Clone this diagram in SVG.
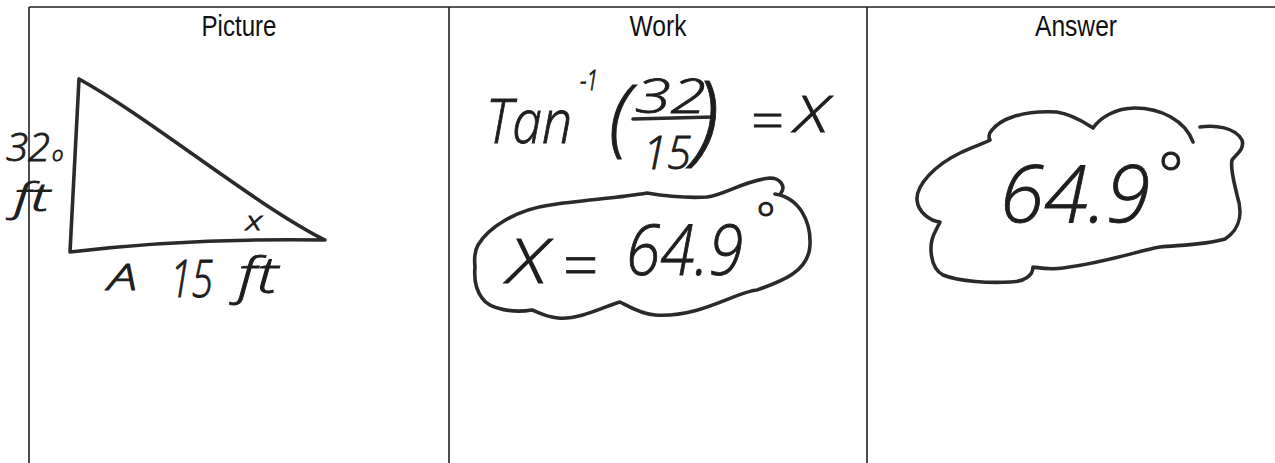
<svg xmlns="http://www.w3.org/2000/svg" width="1275" height="463" viewBox="0 0 1275 463">
<style>
.grid{stroke:#222;stroke-width:1.6;fill:none}
.head{font-family:"Liberation Sans Narrow","Liberation Sans",Arial,sans-serif;font-size:29px;fill:#111;text-anchor:middle}
.hw{font-family:"Open Sans","Liberation Sans",Arial,sans-serif;font-weight:300;font-style:italic;fill:#1e1e1e;stroke:#1e1e1e;stroke-width:0.9}
.pen{fill:none;stroke:#2a2a2a;stroke-width:3.6;stroke-linecap:round;stroke-linejoin:round}
</style>
<rect width="1275" height="463" fill="#fff"/>
<g id="table">
<path class="grid" d="M29,7 H1275 M29,7 V463 M449,7 V463 M867,7 V463"/>
<text class="head" x="239" y="36" textLength="75" lengthAdjust="spacingAndGlyphs">Picture</text>
<text class="head" x="658" y="36" textLength="57" lengthAdjust="spacingAndGlyphs">Work</text>
<text class="head" x="1076" y="36" textLength="82" lengthAdjust="spacingAndGlyphs">Answer</text>
</g>
<g id="picture">
<path class="pen" stroke-width="4" d="M79,79 L70,252 C120,246 200,238 325,240 C255,205 150,118 79,79 Z"/>
<text class="hw" x="246" y="230" font-size="26" textLength="16" lengthAdjust="spacingAndGlyphs">x</text>
<text class="hw" x="6" y="161" font-size="38" textLength="44" lengthAdjust="spacingAndGlyphs">32</text>
<text class="hw" x="52" y="161" font-size="20">o</text>
<text class="hw" x="14" y="211" font-size="38" textLength="36" lengthAdjust="spacingAndGlyphs">ft</text>
<text class="hw" x="108" y="290" font-size="36" textLength="29" lengthAdjust="spacingAndGlyphs">A</text>
<text class="hw" x="170" y="297" font-size="52" textLength="43" lengthAdjust="spacingAndGlyphs">15</text>
<text class="hw" x="238" y="293" font-size="50" textLength="40" lengthAdjust="spacingAndGlyphs">ft</text>
</g>
<g id="work">
<text class="hw" x="486" y="143" font-size="60" textLength="86" lengthAdjust="spacingAndGlyphs">Tan</text>
<text class="hw" x="580" y="90" font-size="28" textLength="18" lengthAdjust="spacingAndGlyphs">-1</text>
<text class="hw" x="609" y="146" font-size="84">(</text>
<text class="hw" x="635" y="113" font-size="48" textLength="71" lengthAdjust="spacingAndGlyphs">32</text>
<path class="pen" d="M633,119 L713,117"/>
<text class="hw" x="643" y="169" font-size="46" textLength="48" lengthAdjust="spacingAndGlyphs">15</text>
<text class="hw" x="693" y="152" font-size="100">)</text>
<text class="hw" x="750" y="139" font-size="51" textLength="33" lengthAdjust="spacingAndGlyphs">=</text>
<text class="hw" x="795" y="132" font-size="50" textLength="33" lengthAdjust="spacingAndGlyphs">X</text>
<path class="pen" d="M775,194 C800,198 811,222 810,245 C809,272 780,282 757,290 C735,292 700,318 655,315 C640,314 628,306 620,302 C605,306 580,320 558,318 C545,317 538,312 532,310 C515,313 490,310 482,298 C476,290 474,278 475,267 C474,257 475,250 478,245 C488,228 515,210 550,205 C580,200 620,198 647,193 C665,196 690,198 707,197 C725,195 745,180 770,178 C780,178 786,186 781,193"/>
<text class="hw" x="508" y="283" font-size="60" textLength="39" lengthAdjust="spacingAndGlyphs">X</text>
<text class="hw" x="562" y="287" font-size="62" textLength="35" lengthAdjust="spacingAndGlyphs">=</text>
<text class="hw" x="626" y="275" font-size="70" textLength="117" lengthAdjust="spacingAndGlyphs">64.9</text>
<text class="hw" x="756" y="236" font-size="46">°</text>
</g>
<g id="answer">
<path class="pen" d="M1200,127 C1215,125 1235,127 1242,140 C1245,150 1235,155 1232,160 C1230,170 1235,185 1237,195 C1242,210 1242,228 1225,239 C1205,245 1180,245 1160,247 C1140,250 1110,262 1063,268 C1050,270 1040,268 1033,267 C1033,275 1025,282 1010,282 C990,283 960,282 943,275 C930,268 928,245 935,232 C937,228 939,224 940,222 C930,221 918,212 917,200 C916,185 935,165 960,153 C972,147 985,143 990,140 C988,136 989,133 992,130 C1000,120 1020,110 1057,112 C1075,115 1088,125 1093,128 C1100,118 1115,108 1135,108 C1160,108 1185,120 1193,142"/>
<text class="hw" x="1000" y="222" font-size="80" textLength="150" lengthAdjust="spacingAndGlyphs">64.9</text>
<text class="hw" x="1158" y="196" font-size="60">°</text>
</g>
<g id="connectors"/>
</svg>
